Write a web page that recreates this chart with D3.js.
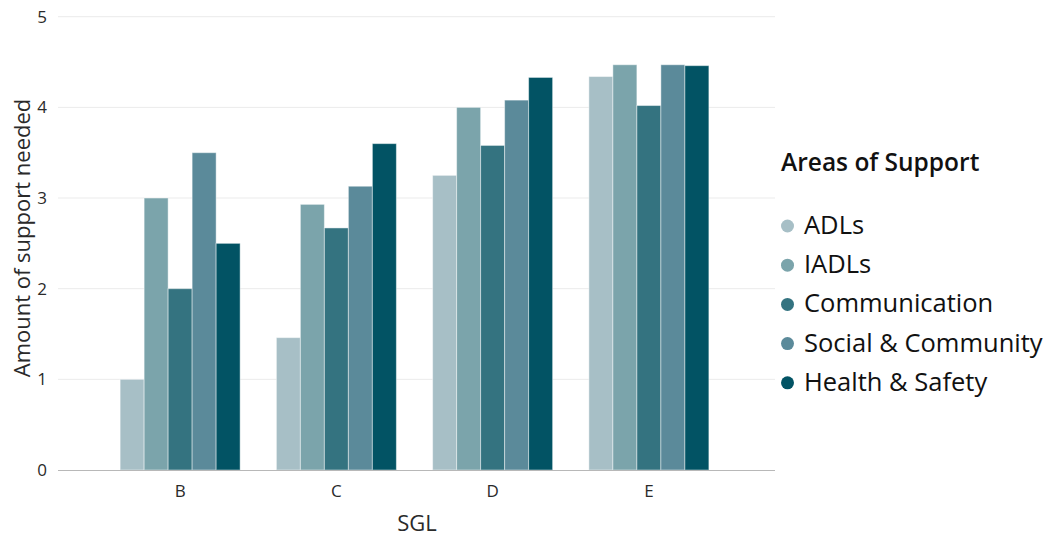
<!DOCTYPE html>
<html>
<head>
<meta charset="utf-8">
<script src="https://cdn.jsdelivr.net/npm/d3@7"></script>
<style>
  html, body { margin: 0; padding: 0; background: #fff; }
  svg { display: block; font-family: "Open Sans", "Noto Sans", sans-serif; }
</style>
</head>
<body>
<svg id="chart" width="1055" height="537"></svg>
<script>
// Support needs by SGL level, one series per area of support
const categories = ["B", "C", "D", "E"];
const seriesNames = ["ADLs", "IADLs", "Communication", "Social & Community", "Health & Safety"];
const adls = [1.0, 1.46, 3.25, 4.34];
const iadls = [3.0, 2.93, 4.0, 4.47];
const communication = [2.0, 2.67, 3.58, 4.02];
const socialCommunity = [3.5, 3.13, 4.08, 4.47];
const healthSafety = [2.5, 3.6, 4.33, 4.46];
const yTicks = [0, 1, 2, 3, 4, 5];
const colors = ["#a7bfc6", "#7ba4ab", "#347380", "#5b8a9a", "#025364"];

const seriesValues = [adls, iadls, communication, socialCommunity, healthSafety];

const svg = d3.select("#chart");
const plotLeft = 58, plotRight = 775, plotTop = 16.7, plotBottom = 470;

const x0 = d3.scaleBand().domain(categories).range([102, 727])
  .paddingInner(0.232).paddingOuter(0.116);
const x1 = d3.scaleBand().domain(seriesNames).range([0, x0.bandwidth()]);
const y = d3.scaleLinear().domain([0, 5]).range([plotBottom, plotTop]);
const color = d3.scaleOrdinal().domain(seriesNames).range(colors);

// Horizontal gridlines
svg.append("g").selectAll("line").data(yTicks.filter(d => d > 0)).join("line")
  .attr("x1", plotLeft).attr("x2", plotRight)
  .attr("y1", d => y(d)).attr("y2", d => y(d))
  .attr("stroke", "#ebebeb").attr("stroke-width", 1);

// Y axis tick labels
const yAxis = svg.append("g").attr("transform", `translate(${plotLeft},0)`)
  .call(d3.axisLeft(y).tickValues(yTicks).tickSize(0).tickPadding(11).tickFormat(d3.format("d")));
yAxis.select(".domain").remove();
yAxis.selectAll("text").attr("font-size", 17).attr("fill", "#2a2a2a")
  .attr("font-family", "\"Open Sans\", sans-serif");

// Bars
const groups = svg.append("g").selectAll("g").data(categories).join("g")
  .attr("transform", d => `translate(${x0(d)},0)`);
groups.selectAll("rect")
  .data((c, i) => seriesNames.map((s, j) => ({ series: s, value: seriesValues[j][i] })))
  .join("rect")
  .attr("x", d => x1(d.series))
  .attr("width", x1.bandwidth())
  .attr("y", d => y(d.value))
  .attr("height", d => y(0) - y(d.value))
  .attr("fill", d => color(d.series))
  .attr("stroke", "rgba(255,255,255,0.45)")
  .attr("stroke-width", 1);

// X axis baseline and category labels
svg.append("line").attr("x1", plotLeft).attr("x2", plotRight)
  .attr("y1", plotBottom + 0.5).attr("y2", plotBottom + 0.5)
  .attr("stroke", "#b8b8b8").attr("stroke-width", 1);
const xAxis = svg.append("g").attr("transform", `translate(0,${plotBottom})`)
  .call(d3.axisBottom(x0).tickSize(0).tickPadding(15));
xAxis.select(".domain").remove();
xAxis.selectAll("text").attr("font-size", 17).attr("fill", "#2a2a2a")
  .attr("font-family", "\"Open Sans\", sans-serif");

// Axis titles
svg.append("text").attr("x", 417).attr("y", 531).attr("text-anchor", "middle")
  .attr("font-size", 22).attr("fill", "#2a2a2a").text("SGL");
svg.append("text").attr("transform", "translate(30,238) rotate(-90)")
  .attr("text-anchor", "middle").attr("font-size", 22).attr("fill", "#2a2a2a")
  .text("Amount of support needed");

// Legend
const legend = svg.append("g").attr("transform", "translate(781,0)");
legend.append("text").attr("x", 0).attr("y", 171)
  .attr("font-size", 24.5).attr("font-weight", 600).attr("fill", "#111")
  .text("Areas of Support");
const items = legend.selectAll("g.item").data(seriesNames).join("g")
  .attr("class", "item")
  .attr("transform", (d, i) => `translate(0,${225 + i * 39.2})`);
items.append("circle").attr("cx", 6.5).attr("cy", 1).attr("r", 6.5)
  .attr("fill", d => color(d));
items.append("text").attr("x", 23).attr("y", 0).attr("dy", "0.35em")
  .attr("font-size", 25.5).attr("fill", "#111").text(d => d);
</script>
</body>
</html>
